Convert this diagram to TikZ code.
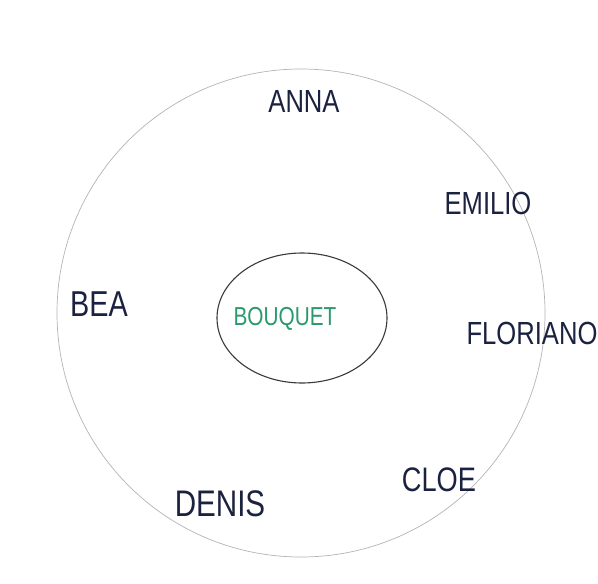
\documentclass[tikz,border=0pt]{standalone}
\usepackage{fontspec}
\usetikzlibrary{shapes.geometric}
\newfontfamily\hand[FakeStretch=0.8]{Liberation Sans}
\definecolor{ink}{HTML}{1B2240}
\definecolor{greenink}{HTML}{2A9A6E}
\definecolor{pencil}{HTML}{B4B4B4}
\definecolor{rim}{HTML}{3A3A3A}
\begin{document}
\begin{tikzpicture}[x=1pt,y=-1pt,
  person/.style={text=ink,inner sep=0pt,font=\hand\fontsize{32}{32}\selectfont},
  core/.style={text=greenink,inner sep=0pt,font=\hand\fontsize{26}{26}\selectfont}]
  \useasboundingbox[fill=white] (0,0) rectangle (598,584);
  % outer pencil circle
  \node[draw=pencil,line width=0.7pt,circle,minimum size=488pt,inner sep=0pt] (outer) at (301,313) {};
  % inner ellipse
  \node[draw=rim,line width=1.1pt,ellipse,minimum width=170pt,minimum height=130pt,inner sep=0pt] (ring) at (302,318) {};
  \node[core] (bouquet) at (285,319) {BOUQUET};
  \node[person] (anna) at (304,101) {ANNA};
  \node[person,font=\hand\fontsize{36}{36}\selectfont] (bea) at (99,304) {BEA};
  \node[person] (emilio) at (488,203) {EMILIO};
  \node[person] (floriano) at (532,333) {FLORIANO};
  \node[person,font=\hand\fontsize{34}{34}\selectfont] (cloe) at (439,480) {CLOE};
  \node[person,font=\hand\fontsize{37}{37}\selectfont] (denis) at (220,504) {DENIS};
\end{tikzpicture}
\end{document}
